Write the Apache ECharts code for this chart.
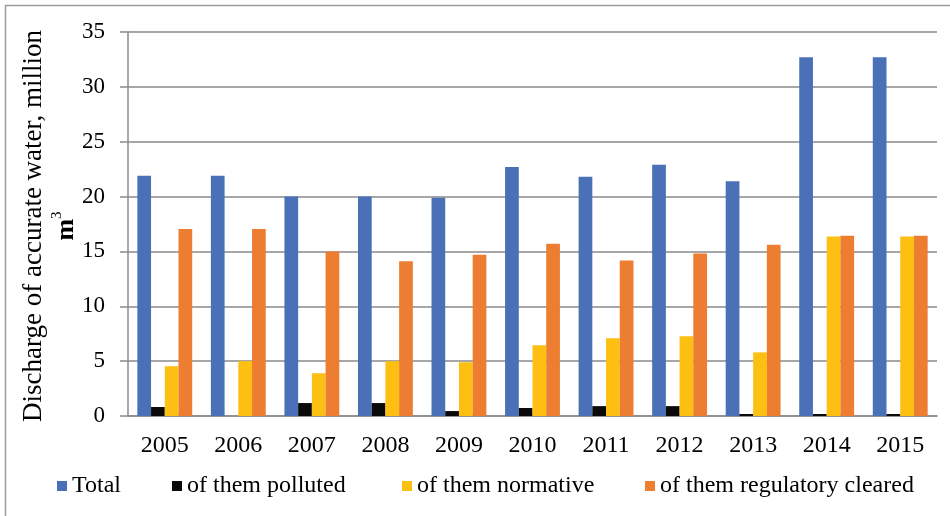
<!DOCTYPE html>
<html>
<head>
<meta charset="utf-8">
<script src="https://cdn.jsdelivr.net/npm/echarts@6/dist/echarts.min.js"></script>
<style>
  html, body { margin: 0; padding: 0; background: #fff; }
  #chart { width: 950px; height: 516px; }
</style>
</head>
<body>
<div id="chart"></div>
<script>
// Discharge of water by year, million m3
const years = ['2005', '2006', '2007', '2008', '2009', '2010', '2011', '2012', '2013', '2014', '2015'];
const total = [21.9, 21.9, 20.0, 20.0, 19.9, 22.7, 21.8, 22.9, 21.4, 32.7, 32.7];
const polluted = [0.82, 0, 1.18, 1.18, 0.45, 0.73, 0.9, 0.9, 0.18, 0.18, 0.18];
const normative = [4.54, 5.0, 3.9, 5.0, 4.9, 6.45, 7.08, 7.27, 5.8, 16.35, 16.35];
const cleared = [17.05, 17.05, 15.0, 14.1, 14.7, 15.7, 14.17, 14.8, 15.6, 16.44, 16.44];
const yTicks = [0, 5, 10, 15, 20, 25, 30, 35];

const seriesNames = ['Total', 'of them polluted', 'of them normative', 'of them regulatory cleared'];
const seriesData = [total, polluted, normative, cleared];
const colors = ['#4A70B8', '#0A0A0A', '#FDBF12', '#ED7D31'];
const legendLeft = [57, 172, 402, 645];

const serif = '"Liberation Serif", "DejaVu Serif", serif';

const chart = echarts.init(document.getElementById('chart'), null, { renderer: 'canvas' });

chart.setOption({
  animation: false,
  backgroundColor: '#fff',
  grid: { left: 128, top: 32, right: 13, bottom: 100, containLabel: false },
  legend: seriesNames.map((name, i) => ({
    data: [name],
    left: legendLeft[i],
    top: 474,
    padding: 0,
    itemWidth: 10,
    itemHeight: 10,
    icon: 'rect',
    selectedMode: false,
    textStyle: { fontFamily: serif, fontSize: 24, color: '#000', padding: [0, 0, 0, 0] }
  })),
  xAxis: {
    type: 'category',
    data: years,
    axisTick: { show: false },
    axisLine: { lineStyle: { color: '#8a8a8a', width: 1.5 } },
    axisLabel: { fontFamily: serif, fontSize: 24, color: '#000', margin: 18 }
  },
  yAxis: {
    type: 'value',
    min: yTicks[0],
    max: yTicks[yTicks.length - 1],
    interval: 5,
    axisLine: { show: true, lineStyle: { color: '#8a8a8a', width: 1.5 } },
    axisTick: { show: true, length: 8, lineStyle: { color: '#8a8a8a', width: 1.5 } },
    splitLine: { lineStyle: { color: '#8a8a8a', width: 1.5 } },
    axisLabel: { fontFamily: serif, fontSize: 23, color: '#000', margin: 23 }
  },
  series: seriesNames.map((name, i) => ({
    name: name,
    type: 'bar',
    data: seriesData[i],
    barGap: '0%',
    barCategoryGap: '25.4%',
    itemStyle: { color: colors[i] }
  })),
  graphic: [
    {
      type: 'rect',
      shape: { x: 5.5, y: 5.5, width: 980, height: 600 },
      style: { fill: 'none', stroke: '#9a9a9a', lineWidth: 1.5 },
      silent: true
    },
    {
      type: 'text',
      x: 50,
      y: 226,
      rotation: Math.PI / 2,
      style: {
        text: 'Discharge of accurate water, million\n{m|m}{sup|3}',
        fontFamily: serif,
        fontSize: 27,
        fill: '#000',
        align: 'center',
        verticalAlign: 'middle',
        lineHeight: 32,
        rich: {
          m: { fontFamily: serif, fontSize: 26, fontWeight: 'bold', fill: '#000' },
          sup: { fontFamily: serif, fontSize: 15, fill: '#000', verticalAlign: 'top', padding: [0, 0, 12, 0] }
        }
      },
      silent: true
    }
  ]
});
</script>
</body>
</html>
